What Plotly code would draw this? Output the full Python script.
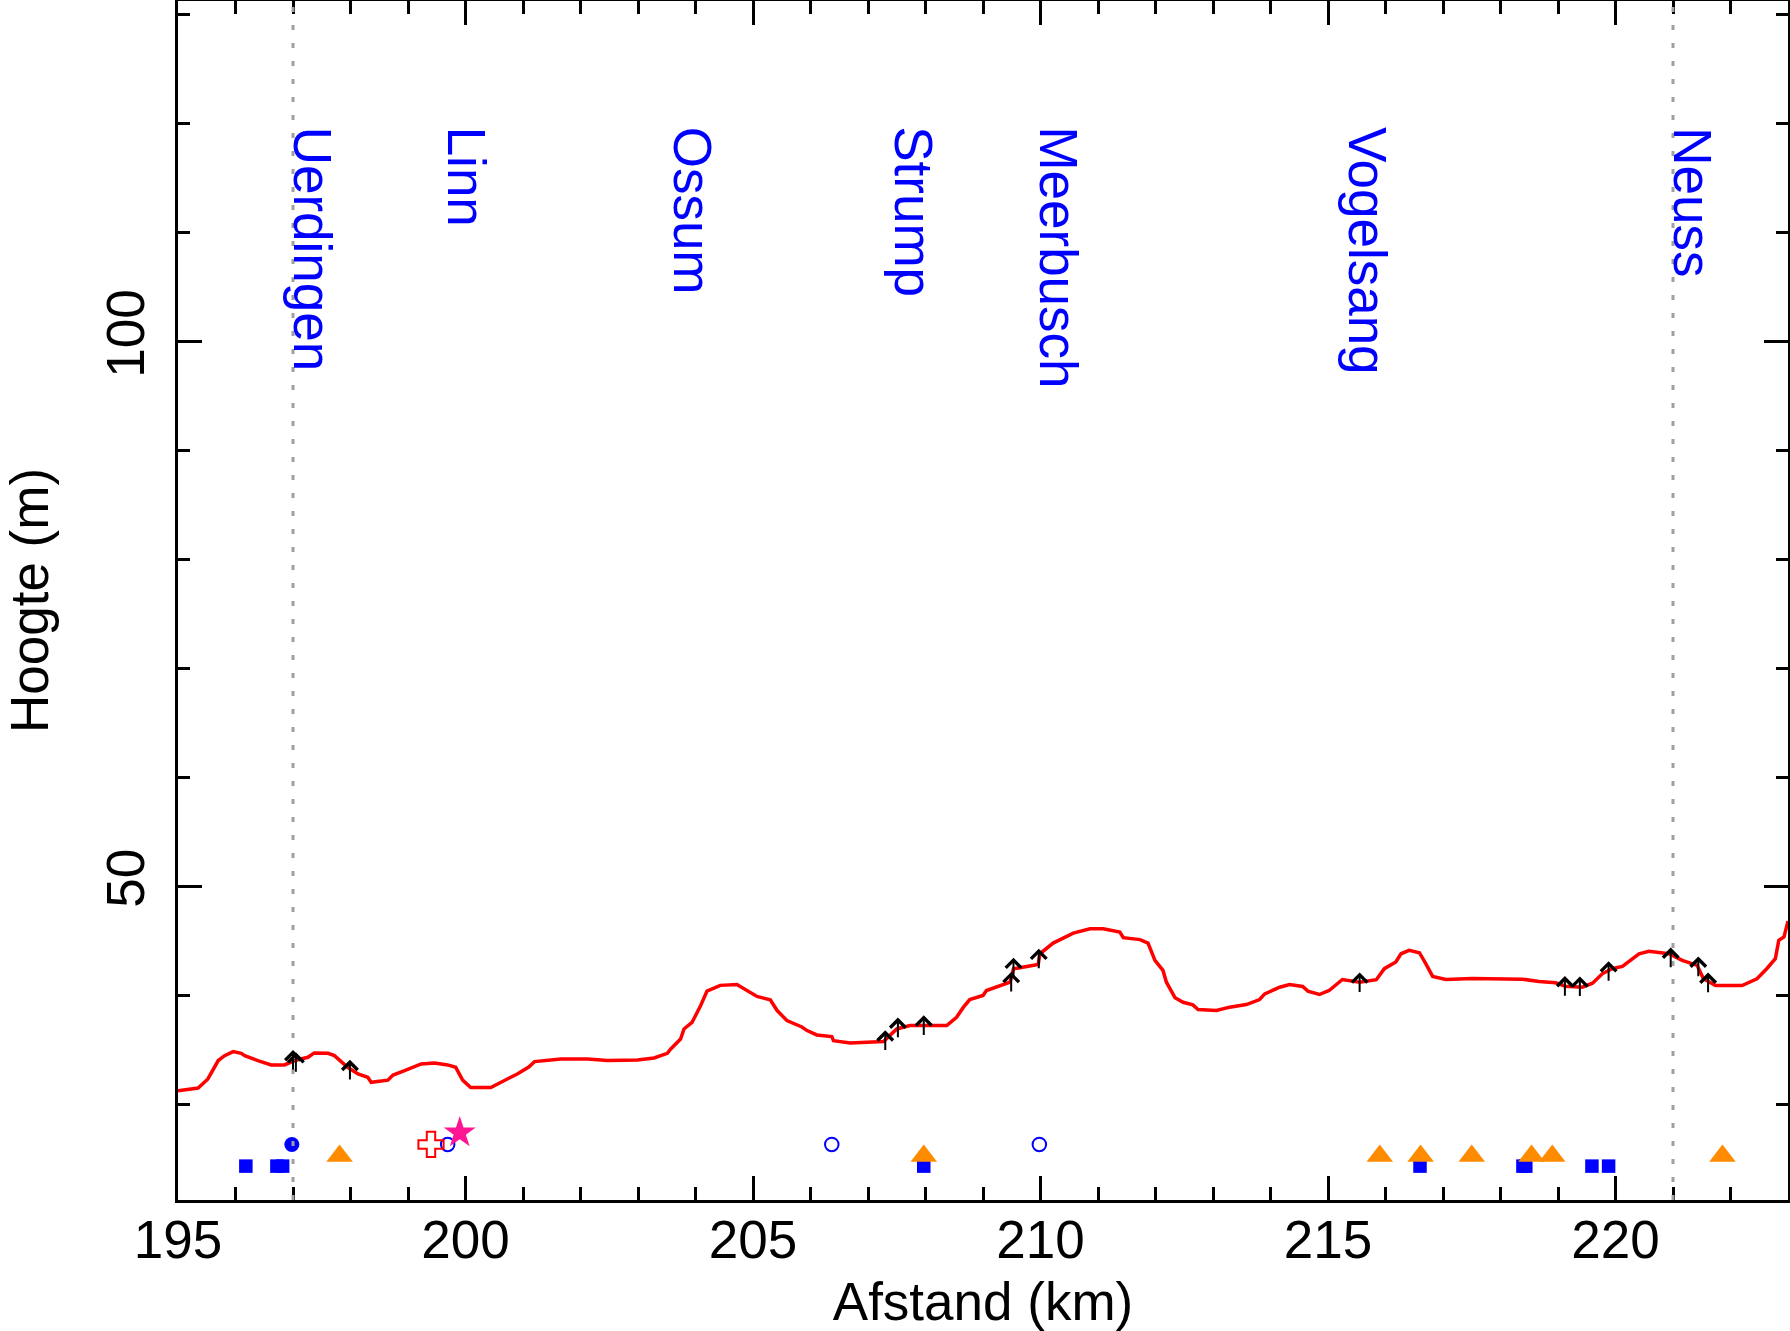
import plotly.graph_objects as go

# ---------------- data ----------------
dist_km = [195.0, 195.35, 195.52, 195.70, 195.81, 195.96, 196.10, 196.16, 196.39, 196.62,
           196.85, 197.03, 197.26, 197.37, 197.61, 197.72, 197.95, 198.13, 198.30, 198.36,
           198.65, 198.74, 198.94, 199.23, 199.46, 199.69, 199.83, 199.95, 200.09, 200.44,
           200.61, 200.90, 201.10, 201.20, 201.66, 202.12, 202.47, 202.99, 203.28, 203.51,
           203.57, 203.74, 203.80, 203.94, 204.03, 204.09, 204.20, 204.43, 204.72, 204.90,
           205.07, 205.30, 205.42, 205.59, 205.85, 205.94, 206.11, 206.37, 206.40, 206.69,
           207.27, 207.50, 207.73, 208.37, 208.54, 208.66, 208.77, 209.00, 209.06, 209.47,
           209.53, 209.96, 209.99, 210.22, 210.57, 210.86, 211.09, 211.38, 211.44, 211.73,
           211.87, 211.99, 212.13, 212.19, 212.34, 212.48, 212.65, 212.74, 213.06, 213.29,
           213.58, 213.81, 213.90, 214.16, 214.33, 214.56, 214.65, 214.85, 215.02, 215.25,
           215.55, 215.84, 215.98, 216.18, 216.27, 216.41, 216.59, 216.70, 216.82, 217.05,
           217.51, 218.38, 218.67, 218.96, 219.13, 219.42, 219.60, 219.77, 219.94, 220.12,
           220.41, 220.58, 220.93, 221.16, 221.42, 221.53, 221.74, 222.20, 222.46, 222.63,
           222.78, 222.84, 222.93, 223.0]
height_m = [31.23, 31.48, 32.31, 34.0, 34.45, 34.82, 34.66, 34.45, 34.0, 33.6,
            33.6, 34.0, 34.3, 34.7, 34.66, 34.45, 33.38, 32.77, 32.46, 32.0,
            32.2, 32.67, 33.07, 33.69, 33.77, 33.6, 33.38, 32.2, 31.53, 31.53,
            31.99, 32.77, 33.4, 33.9, 34.14, 34.14, 34.0, 34.06, 34.24, 34.66,
            35.06, 35.98, 36.9, 37.5, 38.43, 39.05, 40.37, 40.9, 40.98, 40.43,
            39.88, 39.57, 38.59, 37.67, 37.08, 36.75, 36.35, 36.2, 35.83, 35.62,
            35.74, 36.9, 37.21, 37.21, 37.97, 38.9, 39.6, 39.97, 40.43, 41.2,
            42.42, 42.82, 43.8, 44.78, 45.7, 46.1, 46.1, 45.8, 45.28, 45.1,
            44.78, 43.19, 42.27, 41.19, 39.76, 39.35, 39.11, 38.68, 38.59, 38.9,
            39.14, 39.6, 40.12, 40.73, 40.98, 40.8, 40.37, 40.06, 40.43, 41.44,
            41.19, 41.42, 42.43, 43.04, 43.8, 44.11, 43.9, 42.89, 41.72, 41.44,
            41.54, 41.47, 41.26, 41.14, 40.82, 40.73, 41.1, 41.96, 42.43, 42.64,
            43.8, 44.02, 43.8, 43.19, 42.73, 41.5, 40.89, 40.89, 41.5, 42.43,
            43.35, 45.03, 45.34, 46.8]

arrow_x = [197.0, 197.05, 197.99, 207.30, 207.52, 207.97, 209.53, 209.49, 209.97,
           215.55, 219.12, 219.38, 219.88, 220.96, 221.44, 221.61]
arrow_y = [34.0, 33.8, 33.1, 35.8, 36.97, 37.18, 42.47, 41.16, 43.3,
           41.12, 40.78, 40.75, 42.15, 43.4, 42.57, 41.1]

square_x = [196.18, 196.72, 196.82, 207.97, 216.60, 218.39, 218.44, 219.59, 219.88]
square_y = [24.31, 24.31, 24.31, 24.31, 24.31, 24.31, 24.31, 24.31, 24.31]

dot_x = [196.98]
dot_y = [26.3]

ring_x = [199.69, 206.37, 209.98]
ring_y = [26.3, 26.3, 26.3]

triangle_x = [197.81, 207.97, 215.90, 216.61, 217.50, 218.54, 218.90, 221.86]
triangle_y = [25.25, 25.25, 25.25, 25.25, 25.25, 25.25, 25.25, 25.25]

cross_x = [199.40]
cross_y = [26.3]

star_x = [199.90]
star_y = [27.37]

city_names = ["Uerdingen", "Linn", "Ossum", "Strump", "Meerbusch", "Vogelsang", "Neuss"]
city_km = [197.0, 199.67, 203.6, 207.46, 209.97, 215.35, 221.0]

guide_km = [197.0, 221.0]

x_ticks = [195, 200, 205, 210, 215, 220]
y_ticks = [50, 100]

# ---------------- figure ----------------
FONT = "Liberation Sans"
fig = go.Figure()

for gx in guide_km:
    fig.add_shape(type="line", x0=gx, x1=gx, y0=0, y1=1, xref="x", yref="paper",
                  line=dict(color="#a0a0a0", width=3, dash="5px,13px"), layer="above")

fig.add_trace(go.Scatter(x=dist_km, y=height_m, mode="lines",
                         line=dict(color="#ff0000", width=3.5), hoverinfo="skip"))

fig.add_trace(go.Scatter(x=square_x, y=square_y, mode="markers",
                         marker=dict(symbol="square", size=13.5, color="#0000ff", line=dict(width=0))))
fig.add_trace(go.Scatter(x=dot_x, y=dot_y, mode="markers",
                         marker=dict(symbol="circle", size=15, color="#0000ff", line=dict(width=0))))
fig.add_trace(go.Scatter(x=ring_x, y=ring_y, mode="markers",
                         marker=dict(symbol="circle-open", size=13.5, color="#0000ff",
                                     line=dict(width=2, color="#0000ff"))))
fig.add_trace(go.Scatter(x=triangle_x, y=triangle_y, mode="markers",
                         marker=dict(symbol="triangle-up", size=23, color="#ff8c00", line=dict(width=0))))
fig.add_trace(go.Scatter(x=cross_x, y=cross_y, mode="markers",
                         marker=dict(symbol="cross-open", size=21, color="#ff0000",
                                     line=dict(width=2, color="#ff0000"))))
fig.add_trace(go.Scatter(x=star_x, y=star_y, mode="markers",
                         marker=dict(symbol="star", size=24, color="#ff1493", line=dict(width=0))))

half = 0.97
for ax_, ay_ in zip(arrow_x, arrow_y):
    fig.add_annotation(x=ax_, y=ay_ + half, ax=ax_, ay=ay_ - half,
                       xref="x", yref="y", axref="x", ayref="y",
                       text="", showarrow=True, arrowhead=4, arrowsize=1.5,
                       arrowwidth=2, arrowcolor="black", standoff=0, startstandoff=0)

for name, cx in zip(city_names, city_km):
    fig.add_annotation(x=cx, y=119.9, xref="x", yref="y", text=name, showarrow=False,
                       textangle=90, xanchor="left", yanchor="top", xshift=-12,
                       font=dict(family=FONT, size=53, color="#0000ff"))

axis_common = dict(showline=True, linecolor="black", linewidth=2.5, mirror="ticks",
                   ticks="inside", tickcolor="black", tickwidth=2.5, ticklen=24,
                   showgrid=False, zeroline=False, automargin=False,
                   tickfont=dict(family=FONT, size=53, color="black"))

fig.update_layout(
    width=1790, height=1331,
    margin=dict(l=178, r=2, t=1, b=131, autoexpand=False),
    paper_bgcolor="white", plot_bgcolor="white",
    showlegend=False,
    font=dict(family=FONT, color="black"),
    xaxis=dict(range=[195, 223], tickmode="array", tickvals=x_ticks,
               ticktext=[str(v) for v in x_ticks], ticklabelstandoff=-8,
               minor=dict(dtick=1, tick0=195, ticks="inside", ticklen=13, tickwidth=2.5, tickcolor="black"),
               title=dict(text="Afstand (km)", font=dict(family=FONT, size=53), standoff=18),
               **axis_common),
    yaxis=dict(range=[21.2, 131.25], tickmode="array", tickvals=y_ticks,
               ticktext=[str(v) for v in y_ticks], tickangle=-90, ticklabelstandoff=10,
               minor=dict(dtick=10, tick0=0, ticks="inside", ticklen=12, tickwidth=2.5, tickcolor="black"),
               title=dict(text="Hoogte (m)", font=dict(family=FONT, size=53), standoff=33),
               **axis_common),
)

fig.write_html("out.html", config={"displayModeBar": False},
               post_script="document.body.style.margin='0px';document.body.style.overflow='hidden';")
